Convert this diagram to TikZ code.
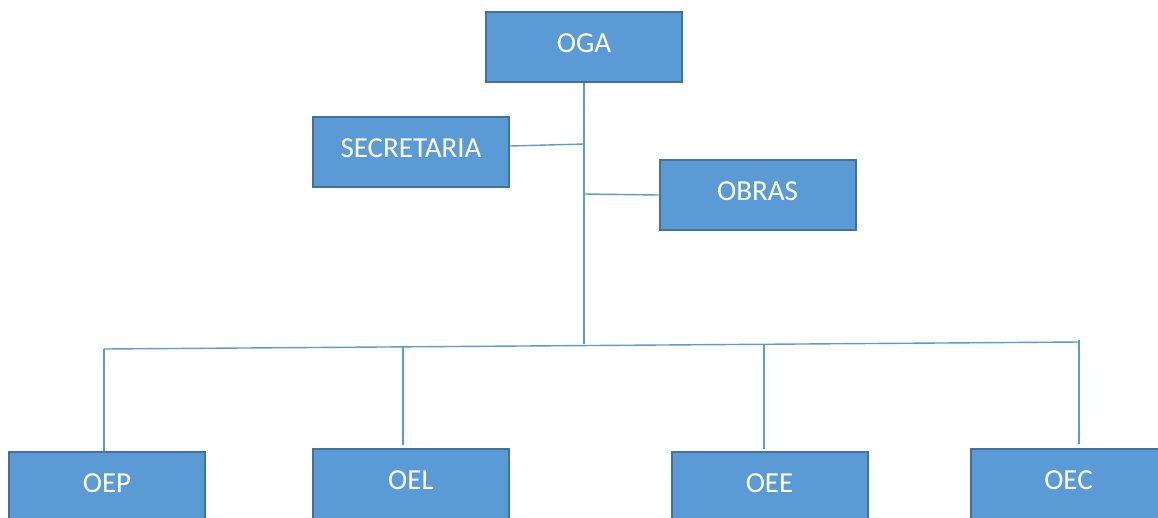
\documentclass[tikz,border=0pt]{standalone}
\usepackage{fontspec}
\setmainfont{Carlito}
\usetikzlibrary{positioning}
\definecolor{boxblue}{HTML}{5B9BD5}
\definecolor{boxedge}{HTML}{41719C}
\definecolor{linkblue}{HTML}{5B9BD5}
\tikzset{unit/.style={draw=boxedge,line width=2pt,fill=boxblue,text=white,minimum width=196pt,minimum height=70pt,inner sep=0pt,text height=20pt,text depth=9pt,font=\fontsize{29}{34}\selectfont},link/.style={draw=linkblue,line width=1.4pt}}

\begin{document}
\begin{tikzpicture}[x=1pt,y=-1pt]
\clip (0,0) rectangle (1158,517);
% top and staff units
\node[unit] (oga) at (584,46.5) {OGA};
\node[unit] (secretaria) at (411,152) {SECRETARIA};
\node[unit] (obras) at (757.5,195) {OBRAS};
% bottom row
\node[unit] (oep) at (107,487) {OEP};
\node[unit] (oel) at (411,484) {OEL};
\node[unit] (oee) at (769.5,487) {OEE};
\node[unit] (oec) at (1068.5,484) {OEC};
% junctions
\coordinate (jsec) at (584,144);
\coordinate (jobr) at (584,194);
\coordinate (trunk) at (584,344);
\coordinate (busl) at (104,349);
\coordinate (busr) at (1080,342);
\coordinate (doel) at (403,347);
\coordinate (doee) at (764,345);
\coordinate (doec) at (1079,340);
\draw[link] (oga.south) -- (trunk);
\draw[link] ([yshift=6pt]secretaria.east) -- (jsec);
\draw[link] (jobr) -- (obras.west);
\draw[link] (busl) -- (busr);
\draw[link] (busl) -- (busl |- oep.north);
\draw[link] (doel) -- ([yshift=3pt]doel |- oel.north);
\draw[link] (doee) -- ([yshift=2pt]doee |- oee.north);
\draw[link] (doec) -- ([yshift=4pt]doec |- oec.north);
\end{tikzpicture}
\end{document}
